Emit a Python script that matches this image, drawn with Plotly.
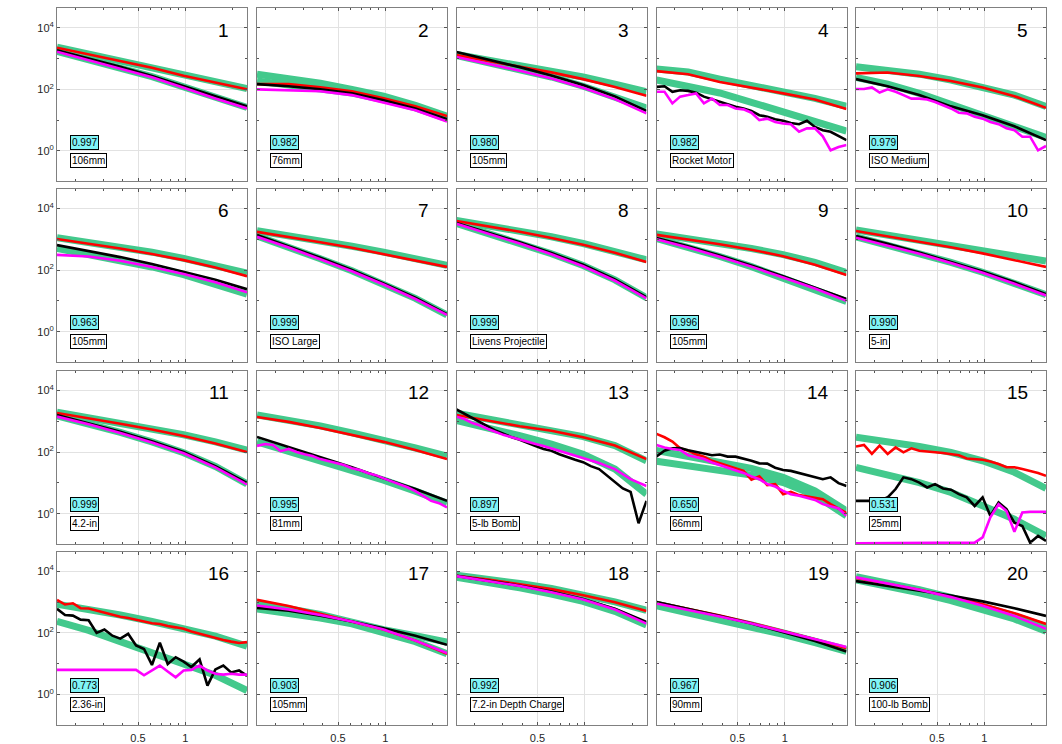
import math
import plotly.graph_objects as go

# Sampling positions along the horizontal axis
X_COARSE = [0.153, 0.243, 0.386, 0.613, 0.974, 1.55, 2.46]
X_FINE = [0.153, 0.172, 0.193, 0.216, 0.243, 0.273, 0.306, 0.344, 0.386, 0.433,
          0.486, 0.546, 0.613, 0.688, 0.772, 0.867, 0.974, 1.09, 1.23, 1.38,
          1.55, 1.74, 1.95, 2.19, 2.46]

fit_r2 = ["0.997", "0.982", "0.980", "0.982", "0.979",
          "0.963", "0.999", "0.999", "0.996", "0.990",
          "0.999", "0.995", "0.897", "0.650", "0.531",
          "0.773", "0.903", "0.992", "0.967", "0.906"]

source_names = ["106mm", "76mm", "105mm", "Rocket Motor", "ISO Medium",
                "105mm", "ISO Large", "Livens Projectile", "105mm", "5-in",
                "4.2-in", "81mm", "5-lb Bomb", "66mm", "25mm",
                "2.36-in", "105mm", "7.2-in Depth Charge", "90mm", "100-lb Bomb"]

green_upper = [
    [2350, 1420, 870, 525, 290, 170, 105],
    [310, 230, 158, 100, 60, 30, 13.5],
    [1350, 910, 600, 400, 250, 148, 83],
    [457, 363, 214, 138, 83, 51, 28],
    [540, 420, 310, 200, 120, 65, 28],
    [1120, 795, 560, 380, 240, 145, 79],
    [1900, 1320, 890, 590, 380, 234, 141],
    [4070, 2820, 1860, 1200, 725, 417, 214],
    [1480, 1070, 760, 500, 316, 178, 83],
    [2000, 1380, 955, 660, 447, 302, 195],
    [1950, 1320, 890, 575, 363, 214, 115],
    [1585, 1100, 708, 417, 245, 135, 74],
    [1820, 1175, 760, 537, 316, 162, 52],
    [112, 72, 49, 29.5, 15.1, 5.5, 1.23],
    [302, 219, 151, 98, 52, 22, 6.6],
    [850, 600, 380, 234, 141, 78, 37],
    [933, 645, 398, 224, 126, 81, 50],
    [7410, 5620, 3980, 2750, 1740, 1020, 537],
    [851, 525, 316, 182, 100, 55, 29],
    [6610, 4170, 2510, 1410, 741, 355, 158],
]

green_lower = [
    [1700, 920, 500, 257, 120, 54, 26],
    [186, 141, 105, 76, 46, 25, 11.2],
    [1260, 760, 447, 251, 126, 58, 24.5],
    [200, 126, 76, 38, 18, 9.3, 4.4],
    [245, 148, 74, 33, 14.5, 6.9, 2.75],
    [500, 330, 210, 126, 71, 36, 16.6],
    [1260, 562, 234, 95, 35, 12, 3.5],
    [3240, 1585, 760, 339, 141, 48, 12.6],
    [1050, 550, 275, 129, 56, 23.4, 9.5],
    [1200, 660, 355, 178, 85, 38, 15.8],
    [1480, 832, 437, 214, 95, 34, 9.3],
    [214, 107, 55, 26, 12.3, 5.4, 2.2],
    [1050, 630, 339, 182, 85, 28, 4.3],
    [50, 36, 27, 17.8, 10.2, 4.0, 0.85],
    [32, 19, 10.2, 4.9, 1.78, 0.66, 0.19],
    [234, 120, 52, 23.4, 9.8, 4.2, 1.35],
    [600, 447, 302, 195, 105, 52, 21],
    [6310, 4370, 2880, 1820, 1050, 501, 178],
    [759, 457, 275, 158, 89, 48, 25],
    [5250, 3310, 2000, 1120, 589, 282, 112],
]

red = [
    [2240, 1350, 830, 500, 275, 162, 100],
    [148, 148, 117, 87, 51, 28, 13.5],
    [1290, 850, 550, 355, 214, 120, 62],
    [390, 310, 174, 115, 74, 47, 23],
    [330, 350, 270, 185, 115, 60, 25],
    [1020, 725, 500, 330, 210, 120, 63],
    [1740, 1200, 800, 525, 330, 210, 126],
    [3900, 2630, 1740, 1100, 660, 363, 182],
    [1380, 1000, 690, 457, 282, 148, 69],
    [1860, 1260, 830, 550, 347, 214, 126],
    [1860, 1260, 830, 537, 331, 190, 100],
    [1380, 955, 600, 355, 214, 117, 59],
    [1585, 1050, 690, 490, 302, 162, 59],
    [390, 302, 219, 132, 110, 85, 71, 52, 43, 36, 30, 24.5, 12.6, 16.2, 8.5,
     9.1, 4.3, 5.1, 4.0, 3.6, 3.3, 2.95, 2.04, 1.48, 1.05],
    [151, 170, 87, 162, 87, 141, 98, 132, 110, 102, 98, 93, 87, 79, 62,
     59, 56, 49, 41, 32, 32, 28, 24.5, 21, 17],
    [1175, 832, 912, 631, 617, 525, 437, 372, 331, 302, 263, 234, 204, 195, 166,
     151, 135, 110, 93, 81, 71, 59, 52, 47, 50],
    [1175, 740, 417, 234, 129, 56, 21],
    [7080, 5370, 3800, 2630, 1660, 977, 513],
    [977, 603, 363, 209, 115, 62, 31.6],
    [6030, 3980, 2510, 1510, 850, 437, 195],
]

black = [
    [1860, 1000, 540, 270, 126, 58, 28],
    [148, 126, 100, 74, 44, 24, 10.7],
    [1620, 930, 525, 282, 138, 59, 20],
    [120, 126, 83, 93, 89, 78, 58, 48, 42, 33, 27, 24, 20, 14.5, 12.9,
     10.7, 9.5, 8.1, 7.4, 9.5, 6.0, 4.7, 4.2, 3.0, 2.24],
    [214, 126, 65, 28, 14.5, 6.3, 2.24],
    [645, 417, 263, 158, 89, 48, 24],
    [1380, 600, 250, 100, 37, 12.6, 3.7],
    [3390, 1660, 794, 355, 148, 50, 13.2],
    [1100, 590, 295, 141, 63, 27.5, 11.5],
    [1260, 708, 372, 186, 89, 40, 16.6],
    [1585, 870, 457, 224, 100, 35, 10],
    [310, 145, 69, 32, 14, 6.3, 2.6],
    [2400, 1740, 1260, 930, 690, 490, 390, 300, 251, 195, 158, 126, 110, 85, 68,
     56, 47, 35, 28, 17, 10.2, 6.6, 5.1, 0.49, 2.6],
    [72, 110, 132, 135, 115, 102, 93, 79, 83, 71, 71, 62, 52, 43, 42,
     31, 26, 24.5, 21, 17.8, 16.2, 13.2, 15.1, 9.8, 7.9],
    [2.6, 2.6, 2.6, 2.6, 3.4, 6.3, 15.1, 13.2, 10.2, 7.1, 9.1, 6.6, 6.0, 4.3, 3.4,
     1.78, 3.4, 0.85, 2.3, 1.41, 0.51, 0.40, 0.115, 0.19, 0.13],
    [603, 380, 363, 269, 257, 100, 129, 81, 65, 93, 39, 30, 9.1, 48, 9.8,
     16.2, 11.7, 7.8, 13.8, 1.95, 6.5, 8.7, 5.2, 6.0, 4.0],
    [645, 525, 363, 234, 141, 81, 41],
    [7080, 5010, 3390, 2190, 1260, 603, 224],
    [1000, 603, 355, 200, 107, 54, 25],
    [4790, 3390, 2400, 1620, 1050, 630, 355],
]

magenta = [
    [1660, 890, 480, 245, 112, 50, 24],
    [100, 93, 87, 65, 38, 21, 9.1],
    [1120, 676, 400, 224, 112, 48, 16.6],
    [83, 83, 35, 58, 65, 74, 35, 50, 31, 31, 24, 22.4, 17.4, 10, 11.2,
     8.7, 7.8, 7.4, 4.2, 5.4, 5.4, 3.0, 1.05, 1.35, 1.55],
    [102, 102, 115, 79, 100, 83, 65, 50, 50, 47, 39, 31, 24, 17.4, 16.6,
     12.9, 11.2, 8.7, 7.4, 5.4, 4.7, 2.9, 2.9, 1.05, 1.45],
    [310, 275, 200, 126, 74, 40, 19],
    [1200, 537, 224, 91, 34, 11.5, 3.5],
    [3160, 1550, 724, 324, 132, 45, 12],
    [1000, 537, 269, 129, 57, 25, 10],
    [1120, 630, 339, 170, 81, 36, 15],
    [1410, 794, 417, 204, 91, 32, 8.9],
    [158, 182, 170, 107, 126, 100, 85, 74, 59, 51, 44, 38, 30, 26, 21,
     17.8, 14, 11.5, 9.1, 7.2, 5.4, 3.7, 2.6, 2.2, 1.6],
    [1410, 1175, 870, 724, 562, 437, 355, 302, 251, 219, 182, 158, 132, 110, 91,
     76, 62, 52, 44, 35, 28, 19, 13.2, 10.2, 7.9],
    [170, 141, 126, 117, 79, 68, 59, 46, 38, 31, 24.5, 21, 16.2, 13.2, 9.1,
     7.6, 5.5, 4.3, 3.8, 3.2, 2.8, 2.04, 1.7, 1.48, 0.85],
    [0.11, 0.11, 0.11, 0.11, 0.11, 0.11, 0.11, 0.11, 0.11, 0.11, 0.11, 0.11, 0.11, 0.11, 0.11,
     0.115, 0.17, 0.76, 2.04, 1.23, 0.26, 1.1, 1.15, 1.15, 1.15],
    [6.3, 6.3, 6.3, 6.3, 6.3, 6.3, 6.3, 6.3, 6.3, 6.3, 6.3, 4.2, 6.0, 8.7, 5.6,
     3.6, 6.0, 6.3, 8.7, 6.0, 4.7, 4.4, 4.7, 4.4, 4.4],
    [776, 575, 380, 234, 129, 56, 22],
    [6920, 4900, 3310, 2090, 1200, 575, 200],
    [891, 562, 339, 200, 112, 63, 35],
    [6310, 4070, 2510, 1445, 760, 355, 135],
]

x_major = [0.5, 1]
x_major_text = ["0.5", "1"]
x_minor = [0.2, 0.3, 0.4, 0.6, 0.7, 0.8, 0.9, 2]
y_major = [1, 100, 10000]
y_major_text = ["10<sup>0</sup>", "10<sup>2</sup>", "10<sup>4</sup>"]
y_minor = [0.1, 10, 1000]

# ---- page geometry (pixels) ----
W, H = 1062, 744
COL_LEFT = [57, 257, 456.5, 656.5, 856]
ROW_TOP = [8.3, 189.5, 372, 553.3]
PW, PH = 190, 173.5
XR = [math.log10(0.153), math.log10(2.46)]
YR = [-0.985, 4.63]

GREEN = "#43c98c"
FONT = "Liberation Sans, Arial, Helvetica, sans-serif"

fig = go.Figure()
layout = {}
annotations = []


def xs_for(vals):
    return X_FINE if len(vals) == len(X_FINE) else X_COARSE


for k in range(20):
    r, c = divmod(k, 5)
    n = k + 1
    sfx = "" if n == 1 else str(n)
    xa, ya = "x" + sfx, "y" + sfx

    series = [
        (green_upper[k], GREEN, 7),
        (green_lower[k], GREEN, 7),
        (red[k], "#ff0000", 2.6),
        (black[k], "#000000", 2.6),
        (magenta[k], "#ff00ff", 2.6),
    ]
    for vals, color, width in series:
        fig.add_trace(go.Scatter(
            x=xs_for(vals), y=vals, mode="lines",
            line=dict(color=color, width=width),
            xaxis=xa, yaxis=ya, showlegend=False, hoverinfo="skip"))

    x0 = COL_LEFT[c] / W
    x1 = (COL_LEFT[c] + PW) / W
    y1 = 1 - ROW_TOP[r] / H
    y0 = 1 - (ROW_TOP[r] + PH) / H

    common = dict(
        type="log", showline=True, linecolor="#808080", linewidth=1,
        mirror="ticks", ticks="inside", ticklen=3, tickcolor="#555555",
        showgrid=True, gridcolor="#e2e2e2", gridwidth=1, zeroline=False,
        tickfont=dict(family=FONT, size=11, color="#262626"),
    )
    layout["xaxis" + sfx] = dict(
        common, range=XR, domain=[x0, x1], anchor=ya,
        tickmode="array", tickvals=x_major, ticktext=x_major_text,
        showticklabels=(r == 3), ticklabelstandoff=3,
        minor=dict(tickmode="array", tickvals=x_minor, ticks="inside",
                   ticklen=2, tickcolor="#555555", showgrid=False),
    )
    layout["yaxis" + sfx] = dict(
        common, range=YR, domain=[y0, y1], anchor=xa,
        tickmode="array", tickvals=y_major, ticktext=y_major_text,
        showticklabels=(c == 0),
        minor=dict(tickmode="array", tickvals=y_minor, ticks="inside",
                   ticklen=2, tickcolor="#555555", showgrid=False),
    )

    # panel number
    annotations.append(dict(
        xref=xa + " domain", yref=ya + " domain",
        x=1 - 16 / PW, y=1 - 22 / PH, xanchor="right", yanchor="middle",
        text=str(n), showarrow=False,
        font=dict(family=FONT, size=19, color="#000000")))
    # fit score box
    annotations.append(dict(
        xref=xa + " domain", yref=ya + " domain",
        x=13 / PW, y=1 - 134.2 / PH, xanchor="left", yanchor="middle",
        text=fit_r2[k], showarrow=False,
        bgcolor="#80f4f6", bordercolor="#000000", borderwidth=1, borderpad=1,
        font=dict(family=FONT, size=10, color="#000000")))
    # source name box
    annotations.append(dict(
        xref=xa + " domain", yref=ya + " domain",
        x=13 / PW, y=1 - 152.9 / PH, xanchor="left", yanchor="middle",
        text=source_names[k], showarrow=False,
        bgcolor="#ffffff", bordercolor="#000000", borderwidth=1, borderpad=1,
        font=dict(family=FONT, size=10, color="#000000")))

fig.update_layout(
    width=W, height=H,
    margin=dict(l=0, r=0, t=0, b=0),
    paper_bgcolor="#ffffff", plot_bgcolor="#ffffff",
    annotations=annotations,
    **layout,
)

fig.write_html("out.html")
